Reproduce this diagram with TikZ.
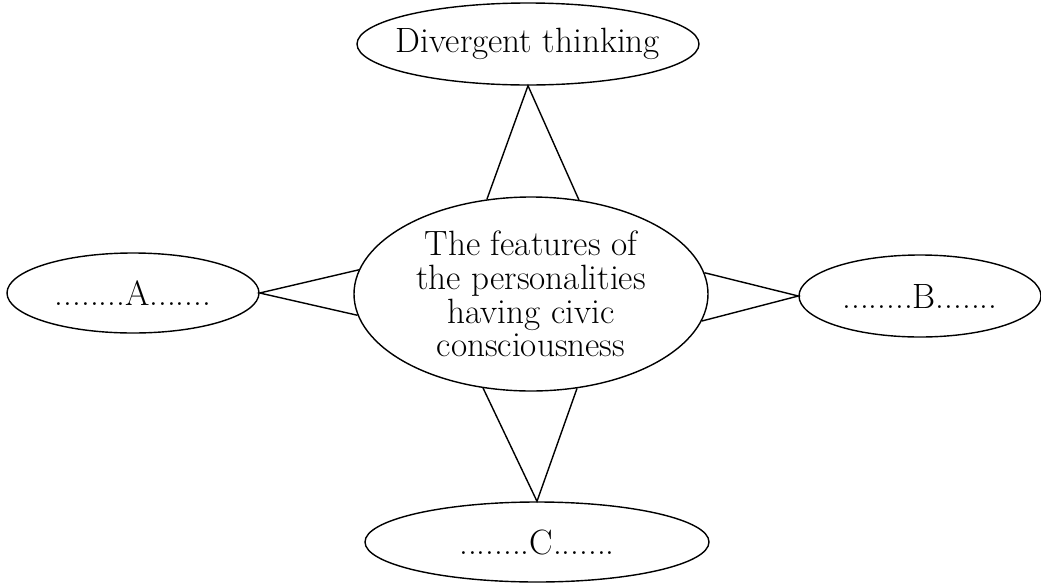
\documentclass[tikz,border=0pt]{standalone}
\usetikzlibrary{shapes,positioning,calc}
\tikzset{
    bubble/.style={
        ellipse,
        draw=black!100,
        fill=white!100,
        line width=1pt,
        inner sep=0pt,
        align=center,
        font=\fontsize{25}{24}\selectfont
    },
    spoke/.style={
        line width=1pt,
        line join=miter
    }
}

\begin{document}
\begin{tikzpicture}

    % Moldura da figura
    \useasboundingbox (0,0) rectangle (26.025,-14.6);

    % Nos
    \node[bubble, minimum width=8.85cm, minimum height=4.85cm] (Mid) at (13.275,-7.35)
        {The features of\\the personalities\\having civic\\consciousness};
    \node[bubble, inner xsep=-0.7cm, minimum width=8.55cm, minimum height=2.05cm] (Top) at (13.2,-1.1) {Divergent thinking};
    \node[bubble, minimum width=6.3cm, minimum height=2.0cm] (A) at (3.325,-7.325) {........A.......};
    \node[bubble, minimum width=6.05cm, minimum height=2.05cm] (B) at (23.0,-7.4) {........B.......};
    \node[bubble, minimum width=8.6cm, minimum height=2.0cm] (C) at (13.425,-13.55) {........C.......};

    % Ligacoes (triangulos)
    \draw[spoke] (Mid.115.6) -- (Top.south) -- (Mid.63.4);
    \draw[spoke] (Mid.243.9) -- (C.north) -- (Mid.296.6);
    \draw[spoke] (Mid.172.4) -- (A.east) -- (Mid.187.9);
    \draw[spoke] (Mid.7.6) -- (B.west) -- (Mid.351.7);

\end{tikzpicture}
\end{document}
